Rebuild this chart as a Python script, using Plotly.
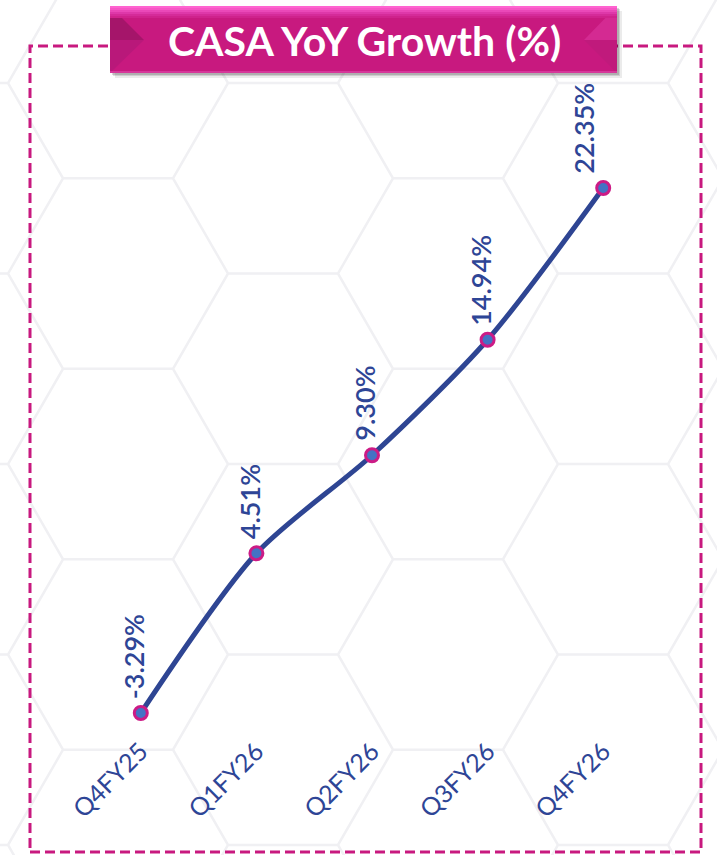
import plotly.graph_objects as go

# ---------------- data ----------------
categories = ["Q4FY25", "Q1FY26", "Q2FY26", "Q3FY26", "Q4FY26"]
growth = [-3.29, 4.51, 9.30, 14.94, 22.35]
value_labels = ["-3.29%", "4.51%", "9.30%", "14.94%", "22.35%"]
title_text = "CASA YoY Growth (%)"

# ---------------- helpers (pixel -> paper) ----------------
W, H = 717, 855


def px(x):
    return x / W


def py(y):
    return 1 - y / H


BLUE = "#2E4596"
MAGENTA = "#C8197F"
FONT = "Lato"

fig = go.Figure()

fig.add_trace(go.Scatter(
    x=categories, y=growth, mode="lines+markers",
    line=dict(color="#2E4593", width=5, shape="spline", smoothing=0.8),
    marker=dict(size=13, color="#4472C4", line=dict(color="#CC1B86", width=3)),
    hoverinfo="skip", showlegend=False,
))

shapes = []

# hexagon background pattern (decorative)
s = 110.0
h = 95.25
segs = []
for j in range(-2, 7):
    cx = 118 + 165 * j
    base = 83 if j % 2 == 0 else 178.25
    for i in range(-2, 7):
        cy = base + 190.5 * i
        pts = [(cx + s, cy), (cx + s / 2, cy + h), (cx - s / 2, cy + h),
               (cx - s, cy), (cx - s / 2, cy - h), (cx + s / 2, cy - h)]
        d = "M %.4f,%.4f " % (px(pts[0][0]), py(pts[0][1]))
        d += " ".join("L %.4f,%.4f" % (px(a), py(b)) for a, b in pts[1:])
        d += " Z"
        segs.append(d)
shapes.append(dict(type="path", xref="paper", yref="paper", path=" ".join(segs),
                   line=dict(color="#F0F0F3", width=2.5), layer="below"))

# dashed frame
shapes.append(dict(type="rect", xref="paper", yref="paper",
                   x0=px(30), x1=px(701), y0=py(852), y1=py(46),
                   line=dict(color=MAGENTA, width=3, dash="10px,5px"),
                   fillcolor="rgba(0,0,0,0)", layer="above"))

# title box: shadow
for k, a in [(5, 0.08), (3, 0.12), (2, 0.15)]:
    shapes.append(dict(type="rect", xref="paper", yref="paper",
                       x0=px(110 + k), x1=px(617 + k), y0=py(73 + k), y1=py(6 + k),
                       line=dict(width=0), fillcolor="rgba(0,0,0,%.2f)" % a, layer="above"))
# main face
shapes.append(dict(type="rect", xref="paper", yref="paper",
                   x0=px(110), x1=px(617), y0=py(73), y1=py(6),
                   line=dict(width=0), fillcolor=MAGENTA, layer="above"))


def tri(p, color):
    d = "M %.4f,%.4f " % (px(p[0][0]), py(p[0][1]))
    d += " ".join("L %.4f,%.4f" % (px(a), py(b)) for a, b in p[1:]) + " Z"
    return dict(type="path", xref="paper", yref="paper", path=d,
                line=dict(width=0), fillcolor=color, layer="above")


shapes.append(tri([(110, 6), (144, 40), (110, 40)], "#A5156A"))
shapes.append(tri([(110, 40), (144, 40), (110, 73)], "#B9187A"))
shapes.append(tri([(617, 6), (584, 40), (617, 40)], "#D42A92"))
shapes.append(tri([(617, 40), (584, 40), (617, 73)], "#C01A7C"))
# top highlight gradient
grad = ["#FF63D0", "#F656C6", "#EA48B8", "#DE38A9", "#D52B99", "#CF228C"]
for k, c in enumerate(grad):
    shapes.append(dict(type="rect", xref="paper", yref="paper",
                       x0=px(110), x1=px(617), y0=py(6 + 2 * (k + 1)), y1=py(6 + 2 * k),
                       line=dict(width=0), fillcolor=c, layer="above"))
# bottom edge light line
shapes.append(dict(type="rect", xref="paper", yref="paper",
                   x0=px(110), x1=px(617), y0=py(73), y1=py(71),
                   line=dict(width=0), fillcolor="#D6379A", layer="above"))

annotations = [dict(
    text="<b>%s</b>" % title_text, xref="paper", yref="paper",
    x=px(364), y=py(41), xanchor="center", yanchor="middle", showarrow=False,
    font=dict(family=FONT, size=41, color="white"),
)]

xshifts = [-7, -7, -7, -7, -20]
for i, (c, v, t) in enumerate(zip(categories, growth, value_labels)):
    annotations.append(dict(
        x=c, y=v, xref="x", yref="y", text=t, textangle=-90, showarrow=False,
        xanchor="center", yanchor="bottom", yshift=12, xshift=xshifts[i],
        font=dict(family=FONT, size=27, color=BLUE, weight=600),
    ))

fig.update_layout(
    width=W, height=H, margin=dict(l=0, r=0, t=0, b=0),
    paper_bgcolor="white", plot_bgcolor="rgba(0,0,0,0)",
    showlegend=False,
    xaxis=dict(domain=[px(83), px(661)], range=[-0.5, 4.5], type="category",
               tickangle=-45, tickfont=dict(family=FONT, size=25, color=BLUE),
               ticklabelstandoff=3,
               showgrid=False, zeroline=False, showline=False, ticks="",
               automargin=False, fixedrange=True),
    yaxis=dict(domain=[py(728), py(60)], range=[-4.0226, 28.603], visible=False,
               showgrid=False, zeroline=False, automargin=False, fixedrange=True),
    shapes=shapes, annotations=annotations,
)

fig.write_html("out.html", config={"displayModeBar": False},
               post_script="document.body.style.margin='0';")
